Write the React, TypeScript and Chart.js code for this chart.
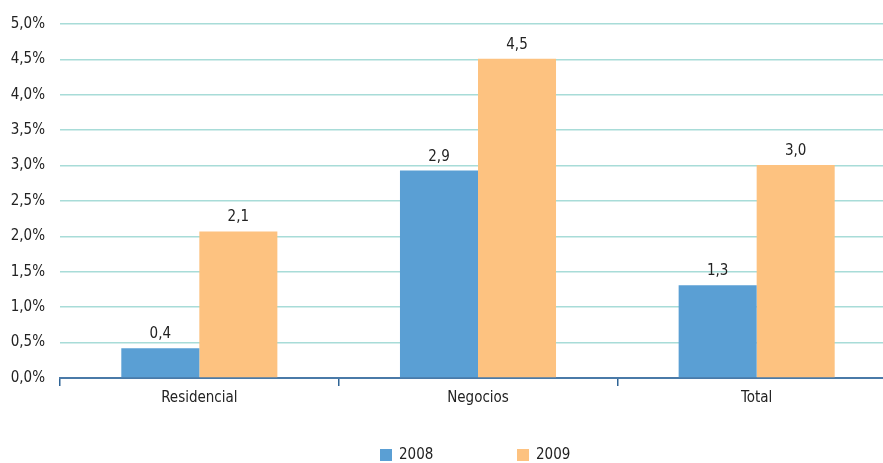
import React, { useEffect, useRef } from "react";
import { Chart, registerables } from "chart.js";

Chart.register(...registerables);

const categories = ["Residencial", "Negocios", "Total"];
const series2008 = [0.42, 2.93, 1.31];
const series2009 = [2.07, 4.51, 3.01];
const seriesNames = ["2008", "2009"];
const seriesColors = ["#5A9FD4", "#FDC280"];
const yTicks = [0, 0.5, 1, 1.5, 2, 2.5, 3, 3.5, 4, 4.5, 5];

const FONT = "'Liberation Sans Narrow', 'DejaVu Sans Condensed', sans-serif";
const TEXT = "#222222";

const fmt = (v: number, d: number) => v.toFixed(d).replace(".", ",");

const valueLabels = {
  id: "valueLabels",
  afterDatasetsDraw(chart: any) {
    const ctx = chart.ctx;
    ctx.save();
    ctx.font = `15px ${FONT}`;
    ctx.fillStyle = TEXT;
    ctx.textAlign = "center";
    ctx.textBaseline = "alphabetic";
    chart.data.datasets.forEach((ds: any, i: number) => {
      const meta = chart.getDatasetMeta(i);
      meta.data.forEach((bar: any, j: number) => {
        ctx.fillText(fmt(ds.data[j], 1), bar.x, bar.y - 10);
      });
    });
    ctx.restore();
  },
};

const bottomLegend = {
  id: "bottomLegend",
  afterDraw(chart: any) {
    const ctx = chart.ctx;
    ctx.save();
    ctx.font = `15px ${FONT}`;
    ctx.textBaseline = "middle";
    ctx.textAlign = "left";
    const cy = 455;
    const starts = [380, 517];
    chart.data.datasets.forEach((ds: any, i: number) => {
      const x = starts[i];
      ctx.fillStyle = ds.backgroundColor;
      ctx.fillRect(x, cy - 6, 12, 12);
      ctx.fillStyle = TEXT;
      ctx.fillText(ds.label, x + 19, cy);
    });
    ctx.restore();
  },
};

export default function App() {
  const ref = useRef<HTMLCanvasElement>(null);
  useEffect(() => {
    const chart = new Chart(ref.current!, {
      type: "bar",
      data: {
        labels: categories,
        datasets: [
          { label: seriesNames[0], data: series2008, backgroundColor: seriesColors[0] },
          { label: seriesNames[1], data: series2009, backgroundColor: seriesColors[1] },
        ],
      },
      options: {
        animation: false,
        responsive: false,
        layout: { padding: { top: 24, right: 0, left: 0, bottom: 35 } },
        datasets: { bar: { categoryPercentage: 0.56, barPercentage: 1 } },
        scales: {
          x: {
            afterFit: (axis: any) => {
              axis.height = 50;
            },
            grid: {
              offset: true,
              drawOnChartArea: false,
              drawTicks: true,
              tickLength: 8,
              color: "#2F6496",
              lineWidth: 1.5,
            },
            border: { display: true, color: "#4A7AA8", width: 2 },
            ticks: { font: { family: FONT, size: 15 }, color: TEXT, padding: 3 },
          },
          y: {
            min: 0,
            max: 5,
            afterFit: (axis: any) => {
              axis.width = 60;
            },
            afterBuildTicks: (axis: any) => {
              axis.ticks = yTicks.map((v) => ({ value: v }));
            },
            grid: { color: "#A8DCD8", lineWidth: 1.5, drawTicks: false },
            border: { display: false },
            ticks: {
              font: { family: FONT, size: 15 },
              color: TEXT,
              padding: 15,
              callback: (v: any) => fmt(Number(v), 1) + "%",
            },
          },
        },
        plugins: {
          legend: { display: false },
          tooltip: { enabled: false },
        },
      },
      plugins: [valueLabels, bottomLegend],
    });
    return () => chart.destroy();
  }, []);
  return (
    <div style={{ position: "fixed", left: 0, top: 0, width: 883, height: 463, overflow: "hidden", background: "#fff" }}>
      <canvas ref={ref} width={896} height={463} style={{ display: "block" }} />
    </div>
  );
}
